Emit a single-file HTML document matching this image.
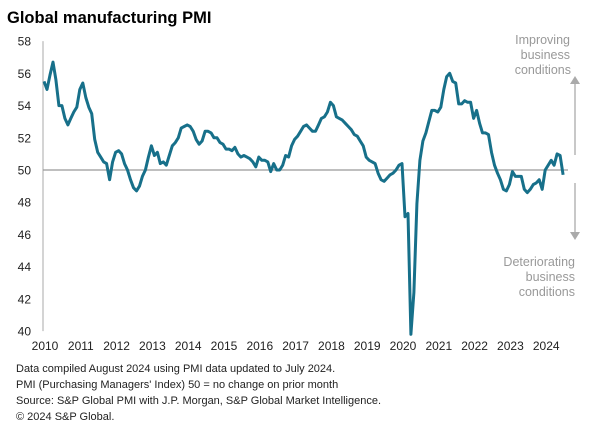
<!DOCTYPE html>
<html><head><meta charset="utf-8"><style>
body{margin:0;background:#fff;font-family:"Liberation Sans",sans-serif;}
</style></head><body>
<svg width="616" height="436" viewBox="0 0 616 436" style="display:block">
<text x="7" y="23" font-size="16.5" font-weight="bold" fill="#000">Global manufacturing PMI</text>
<g id="yaxis"></g>
<g id="xaxis"></g>
<g id="plot"></g>
<g font-size="12.5" fill="#999" text-anchor="end">
<text x="570" y="44">Improving</text><text x="570" y="59">business</text><text x="571" y="74">conditions</text>
</g>
<line x1="575" y1="155" x2="575" y2="84" stroke="#aaa" stroke-width="1.3"/>
<polygon points="570,84 580,84 575,76" fill="#aaa"/>
<line x1="575" y1="183" x2="575" y2="232" stroke="#aaa" stroke-width="1.3"/>
<polygon points="570,232 580,232 575,240" fill="#aaa"/>
<g font-size="12.5" fill="#999" text-anchor="end">
<text x="575" y="266">Deteriorating</text><text x="575" y="281">business</text><text x="575" y="296">conditions</text>
</g>
<g font-size="11" fill="#222">
<text x="16" y="372">Data compiled August 2024 using PMI data updated to July 2024.</text>
<text x="16" y="388">PMI (Purchasing Managers' Index) 50 = no change on prior month</text>
<text x="16" y="404">Source: S&amp;P Global  PMI with J.P. Morgan, S&amp;P Global Market Intelligence.</text>
<text x="16" y="420">© 2024 S&amp;P Global.</text>
</g>
</svg>
<script>
const yTicks=[40,42,44,46,48,50,52,54,56,58];
const xYears=[2010,2011,2012,2013,2014,2015,2016,2017,2018,2019,2020,2021,2022,2023,2024];
const startYear=2010;
const pmi=[
55.5,55.0,55.9,56.7,55.6,54.0,54.0,53.2,52.8,53.2,53.6,53.9,
55.0,55.4,54.5,53.9,53.5,51.9,51.1,50.8,50.5,50.4,49.4,50.5,
51.1,51.2,51.0,50.4,50.0,49.4,48.9,48.7,49.0,49.6,50.0,50.8,
51.5,50.9,51.1,50.4,50.5,50.3,50.9,51.5,51.7,52.0,52.6,52.7,
52.8,52.7,52.4,51.9,51.6,51.8,52.4,52.4,52.3,52.0,52.0,51.7,
51.6,51.3,51.3,51.2,51.4,51.0,50.8,50.9,50.8,50.7,50.5,50.2,
50.8,50.6,50.6,50.5,49.9,50.4,50.0,50.0,50.3,50.9,50.8,51.5,
51.9,52.1,52.4,52.7,52.8,52.6,52.4,52.4,52.8,53.2,53.3,53.6,
54.2,54.0,53.3,53.2,53.1,52.9,52.7,52.5,52.2,52.1,51.8,51.5,
50.8,50.6,50.5,50.4,49.8,49.4,49.3,49.5,49.7,49.8,50.0,50.3,
50.4,47.1,47.3,39.8,42.4,47.9,50.6,51.8,52.3,53.0,53.7,53.7,
53.6,53.9,55.0,55.8,56.0,55.5,55.4,54.1,54.1,54.3,54.2,54.2,
53.2,53.7,52.9,52.3,52.3,52.2,51.1,50.3,49.8,49.4,48.8,48.7,
49.1,49.9,49.6,49.6,49.6,48.8,48.6,48.8,49.1,49.2,49.4,48.8,
50.0,50.3,50.6,50.3,51.0,50.9,49.7];
const NS="http://www.w3.org/2000/svg";
function yS(v){return 170-(v-50)*16.11;}
function xS(t){return 44+(t-startYear)*35.8;}
function mk(tag,attrs,parent){const e=document.createElementNS(NS,tag);for(const k in attrs)e.setAttribute(k,attrs[k]);parent.appendChild(e);return e;}
const ya=document.getElementById('yaxis'),xa=document.getElementById('xaxis'),plot=document.getElementById('plot');
const axl=mk('line',{x1:43,y1:yS(58),x2:43,y2:yS(40),stroke:'#aaa','stroke-width':1},ya);


yTicks.forEach(v=>{const t=mk('text',{x:31,y:yS(v)+4.5,'font-size':12,fill:'#222','text-anchor':'end'},ya);t.textContent=v;

});
xYears.forEach(yr=>{const t=mk('text',{x:xS(yr)+1,y:350,'font-size':12,fill:'#222','text-anchor':'middle'},xa);t.textContent=yr;

});
const ref=mk('line',{x1:43,y1:yS(50),x2:568,y2:yS(50),stroke:'#999','stroke-width':1.2},plot);


const pts=pmi.map((v,i)=>xS(startYear+i/12).toFixed(1)+','+yS(v).toFixed(1)).join(' ');
const pl=mk('polyline',{points:pts,fill:'none',stroke:'#17708a','stroke-width':3,'stroke-linejoin':'round'},plot);


</script>
</body></html>
